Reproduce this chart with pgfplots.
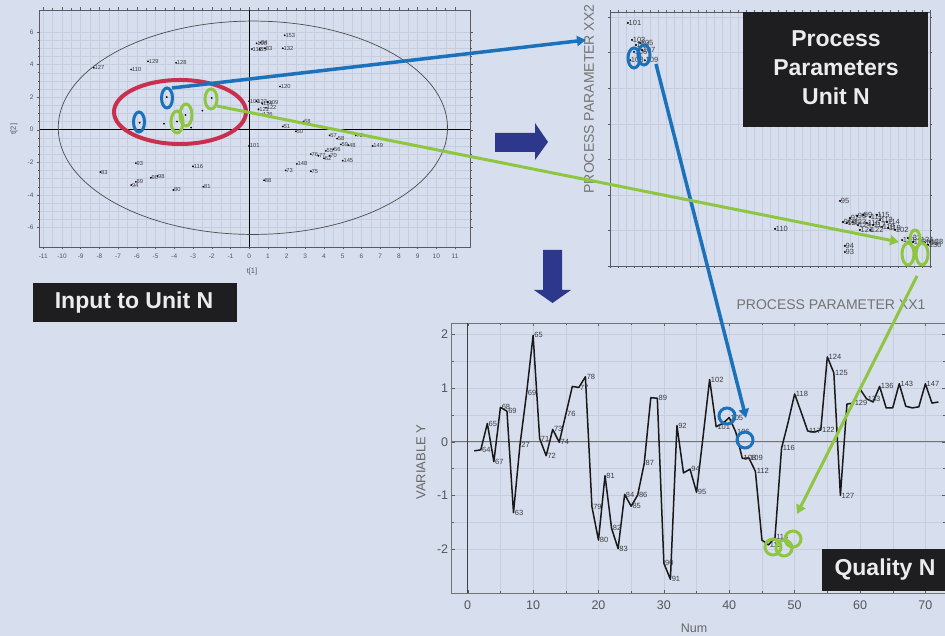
\documentclass[border=0pt]{standalone}
\usepackage{fontspec}
\setmainfont{Liberation Sans}
\usepackage{pgfplots}
\pgfplotsset{compat=1.18}
\usetikzlibrary{arrows.meta}

\definecolor{bg}{RGB}{215,222,237}
\definecolor{gridc}{RGB}{198,205,222}
\definecolor{framec}{RGB}{90,90,95}
\definecolor{tickc}{RGB}{85,85,90}
\definecolor{labc}{RGB}{60,60,65}
\definecolor{blueA}{RGB}{28,114,186}
\definecolor{greenA}{RGB}{142,198,66}
\definecolor{redA}{RGB}{200,48,78}
\definecolor{navyA}{RGB}{45,55,140}
\definecolor{boxc}{RGB}{30,30,32}
\definecolor{boxtext}{RGB}{236,236,236}

\pgfplotsset{
  panel/.style={
    anchor=south west, scale only axis, clip=false,
    /pgf/number format/assume math mode=true,
    axis line style={draw=framec, line width=0.6pt},
    tick style={draw=framec, line width=0.4pt},
    major grid style={draw=gridc, line width=0.45pt},
    minor grid style={draw=gridc, line width=0.3pt},
  },
  idlabels/.style={
    nodes near coords, point meta=explicit symbolic,
    nodes near coords style={anchor=west, inner sep=0.6pt, text=labc, font=#1},
  },
}

% score plot t[1] / t[2]
\pgfplotstableread{
x y lab
1.9 5.8 153
0.40 5.30 108
0.60 5.35 84
0.15 4.95 112
0.55 4.95 85
0.85 5.00 83
1.8 5.0 132
-5.4 4.2 129
-3.9 4.1 128
-8.3 3.8 127
-6.3 3.7 110
1.65 2.65 120
0.0 1.75 100
0.4 1.75 123
0.7 1.6 124
1.0 1.7 109
0.9 1.35 122
0.5 1.25 121
0.7 0.95 126
2.9 0.5 68
1.8 0.2 51
2.5 -0.1 50
5.7 -0.35 72
4.3 -0.35 57
4.7 -0.55 58
4.9 -0.9 59
5.3 -0.95 48
4.5 -1.2 56
4.1 -1.3 55
3.7 -1.6 77
4.3 -1.6 70
4.0 -1.75 62
3.3 -1.5 76
6.6 -1.0 149
5.0 -1.9 145
2.55 -2.1 148
1.95 -2.5 73
3.3 -2.55 75
0.8 -3.1 88
0.0 -1.0 101
-3.0 -2.25 116
-2.45 -3.5 81
-4.05 -3.7 80
-6.05 -2.05 93
-7.95 -2.6 83
-6.05 -3.2 89
-6.3 -3.4 94
-5.25 -2.95 90
-4.9 -2.85 98
-4.55 0.37 {}
-2.5 1.17 {}
-3.1 0.13 {}
-4.4 2.0 {}
-5.85 0.43 {}
-2.0 1.95 {}
-3.85 0.5 {}
-3.4 0.9 {}
}\scores

% process parameters XX1 / XX2 (relative units)
\pgfplotstableread{
x y lab
5.6 95.7 101
6.9 89 103
8.1 87 104
9.4 87.8 105
7.5 84.3 106
10 85 107
6.3 81 108
10.9 81 109
51.6 14.6 110
71.9 25.6 95
73.4 7.9 94
73.4 5.5 93
72.8 17.3 96
75 18.9 97
77.2 19.7 98
79.1 20.1 99
81.3 19.3 111
83.4 20.1 115
84.4 18.1 113
86.6 17.3 114
80.3 16.9 116
82.2 16.1 117
85 15.4 118
86.9 15 119
89.1 14.2 102
78.1 14.2 121
81.3 14.2 122
75.9 17.3 123
77.5 16.1 124
74 16.9 125
91.3 10.2 131
93.1 11 132
94.7 9.4 133
96.9 10.2 134
98.4 9.1 135
100 9.4 128
99.4 8.3 136
}\process

% quality variable Y against sample number
\pgfplotstableread{
n y lab
1 -0.17 {}
2 -0.15 64
3 0.34 65
4 -0.37 67
5 0.64 68
6 0.57 69
7 -1.32 63
8 -0.05 27
9 0.90 69
10 1.98 65
11 0.06 71
12 -0.26 72
13 0.23 73
14 -0.01 74
15 0.51 76
16 1.03 {}
17 1.01 77
18 1.21 78
19 -1.21 79
20 -1.83 80
21 -0.63 81
22 -1.61 82
23 -1.99 83
24 -0.98 84
25 -1.20 85
26 -0.99 86
27 -0.40 87
28 0.82 {}
29 0.81 89
30 -2.26 90
31 -2.56 91
32 0.30 92
33 -0.58 {}
34 -0.51 94
35 -0.94 95
36 0.10 {}
37 1.16 102
38 0.28 101
39 0.34 {}
40 0.45 105
41 0.18 106
42 -0.31 108
43 -0.30 109
44 -0.55 112
45 -1.83 {}
46 -1.92 113
47 -1.78 114
48 -0.12 116
49 0.36 {}
50 0.89 118
51 0.55 {}
52 0.20 117
53 0.18 {}
54 0.22 122
55 1.58 124
56 1.28 125
57 -1.00 127
58 0.70 {}
59 0.72 129
60 0.98 {}
61 0.80 133
62 0.74 {}
63 1.03 136
64 0.63 {}
65 0.63 {}
66 1.08 143
67 0.66 {}
68 0.63 {}
69 0.65 {}
70 1.08 147
71 0.72 {}
72 0.74 {}
}\quality

\begin{document}
\begin{tikzpicture}
\useasboundingbox (0,0) rectangle (945pt,636pt);
\fill[bg] (0,0) rectangle (945pt,636pt);

% ---------------- score plot ----------------
\begin{axis}[panel,
  at={(39.5pt,389pt)}, width=430.5pt, height=237pt,
  xmin=-11.2, xmax=11.8, ymin=-7.2, ymax=7.35,
  xtick={-11,...,11}, ytick={-6,-4,...,6},
  minor x tick num=1, minor y tick num=3,
  grid=both, tick align=outside, major tick length=2.5pt, minor tick length=1.5pt,
  tick label style={font=\fontsize{6.5}{7}\selectfont, text=tickc},
  xticklabel style={yshift=-1pt},
]
\draw[black, line width=0.6pt] (axis cs:0,-7.2) -- (axis cs:0,7.35);
\draw[black, line width=0.6pt] (axis cs:-11.2,0) -- (axis cs:11.8,0);
\draw[black!70, line width=0.7pt] (axis cs:0.2,0.12) ellipse [x radius=10.4, y radius=6.55];
\addplot[only marks, mark=*, mark size=0.65pt, black,
  idlabels={\fontsize{5.8}{6}\selectfont}] table[x=x, y=y, meta=lab] {\scores};
\end{axis}

% ---------------- process parameters ----------------
\begin{axis}[panel,
  at={(610pt,370pt)}, width=320pt, height=254pt,
  xmin=0, xmax=100, ymin=0, ymax=100,
  xtick={0,2.5,...,100}, ytick={0,14,...,98},
  xticklabels={}, yticklabels={},
  grid=major, tick align=outside, major tick length=2pt,
  axis line style={draw=framec, line width=0.8pt},
]
\addplot[only marks, mark=*, mark size=0.8pt, black,
  idlabels={\fontsize{7.5}{8}\selectfont}] table[x=x, y=y, meta=lab] {\process};
\end{axis}

% ---------------- quality N ----------------
\begin{axis}[panel,
  at={(451.7pt,42.7pt)}, width=493.3pt, height=270.3pt,
  xmin=-2.45, xmax=73, ymin=-2.82, ymax=2.21,
  xtick={0,10,...,70}, ytick={-2,-1,0,1,2},
  minor x tick num=1, minor y tick num=1,
  grid=both, tick align=inside, major tick length=3pt, minor tick length=2pt,
  axis line style={draw=black!55, line width=0.8pt},
  tick label style={font=\fontsize{12.5}{13}\selectfont, text=tickc},
  xticklabel style={yshift=-4pt},
]
\draw[black!55, line width=1.4pt] (axis cs:-2.45,0) -- (axis cs:73,0);
\draw[black!75, line width=1pt] (axis cs:0,-2.82) -- (axis cs:0,2.21);
\addplot[black!90, line width=1.5pt, mark=none, line join=round,
  idlabels={\fontsize{7.5}{8}\selectfont}] table[x=n, y=y, meta=lab] {\quality};
\end{axis}

% ---------------- annotations ----------------
\begin{scope}[shift={(0pt,636pt)}, x=1pt, y=-1pt]
  % axis titles
  \node[text=tickc, font=\fontsize{7.5}{8}\selectfont] at (252,272) {t[1]};
  \node[text=tickc, font=\fontsize{7.5}{8}\selectfont, rotate=90] at (14,129) {t[2]};
  \node[text=black!55, font=\fontsize{14}{15}\selectfont] at (831,305) {PROCESS PARAMETER XX1};
  \node[text=black!55, font=\fontsize{14}{15}\selectfont, rotate=90] at (589,99) {PROCESS PARAMETER XX2};
  \node[text=black!60, font=\fontsize{13}{14}\selectfont, rotate=90] at (421,462) {VARIABLE Y};
  \node[text=black!60, font=\fontsize{12.5}{13}\selectfont] at (694,628) {Num};

  % label boxes
  \fill[boxc] (33,283) rectangle (237,322);
  \node[text=boxtext, font=\fontsize{23}{25}\bfseries] at (134,302.5) {Input to Unit N};
  \fill[boxc] (743,12) rectangle (928,127);
  \node[text=boxtext, font=\fontsize{23}{29}\bfseries, align=center] at (836,68)
    {Process\\Parameters\\Unit N};
  \fill[boxc] (822,549) rectangle (946,591);
  \node[text=boxtext, font=\fontsize{23}{25}\bfseries] at (885,570) {Quality N};

  % flow arrows
  \fill[navyA] (495,133) -- (535,133) -- (535,123) -- (548,142) -- (535,160)
    -- (535,152) -- (495,152) -- cycle;
  \fill[navyA] (543,250) -- (562,250) -- (562,290) -- (571,290) -- (552.5,303)
    -- (534,290) -- (543,290) -- cycle;

  % highlighted region in the score plot
  \draw[redA, line width=4pt] (180,112) ellipse [x radius=66, y radius=32];
  \draw[blueA, line width=3pt] (167,98) ellipse [x radius=5.5, y radius=10];
  \draw[blueA, line width=3pt] (139,122) ellipse [x radius=5.5, y radius=10];
  \draw[greenA, line width=3pt] (211,99) ellipse [x radius=6, y radius=10];
  \draw[greenA, line width=3pt] (177,122) ellipse [x radius=6, y radius=11];
  \draw[greenA, line width=3pt] (186,115) ellipse [x radius=6, y radius=11];

  % highlighted points in the process parameter plot
  \draw[blueA, line width=3pt] (634,58) ellipse [x radius=6, y radius=10];
  \draw[blueA, line width=3pt] (644,55) ellipse [x radius=6, y radius=10];
  \draw[greenA, line width=3pt] (908,254) ellipse [x radius=6, y radius=11];
  \draw[greenA, line width=3pt] (922,254) ellipse [x radius=6, y radius=11];
  \draw[greenA, line width=3pt] (915,239) ellipse [x radius=5, y radius=9];

  % highlighted samples in the quality plot
  \draw[blueA, line width=3pt] (727,416) circle [radius=8];
  \draw[blueA, line width=3pt] (745,440) circle [radius=8];
  \draw[greenA, line width=3pt] (773,547) circle [radius=8];
  \draw[greenA, line width=3pt] (784,548) circle [radius=8];
  \draw[greenA, line width=3pt] (793,539) circle [radius=8];

  % links between the plots
  \draw[blueA, line width=3.5pt, -{Triangle[length=9pt,width=10pt]}] (172,88) -- (586,40);
  \draw[blueA, line width=3.5pt, -{Triangle[length=9pt,width=10pt]}] (656,64) -- (746,418);
  \draw[greenA, line width=3pt, -{Triangle[length=9pt,width=10pt]}] (217,106) -- (899,242);
  \draw[greenA, line width=3pt, -{Triangle[length=9pt,width=10pt]}] (917,276) -- (797,514);
\end{scope}
\end{tikzpicture}
\end{document}
